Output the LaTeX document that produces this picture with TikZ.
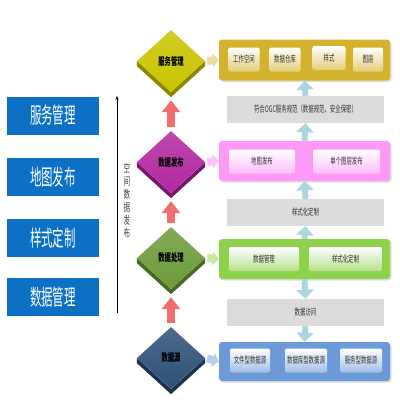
\documentclass[tikz,border=0pt]{standalone}
\usepackage{fontspec}
\setmainfont{Noto Sans CJK SC}[FakeStretch=0.6]
\newfontfamily\tallfont{Noto Sans CJK SC}[FakeStretch=0.52]
\usetikzlibrary{shapes.geometric,arrows.meta,shadows}

\definecolor{boxblue}{RGB}{12,112,196}
\definecolor{yelface}{RGB}{201,196,0}
\definecolor{yelside}{RGB}{140,136,0}
\definecolor{purface}{RGB}{178,40,160}
\definecolor{purside}{RGB}{120,22,108}
\definecolor{grnface}{RGB}{108,155,58}
\definecolor{grnside}{RGB}{70,105,35}
\definecolor{navface}{RGB}{46,80,120}
\definecolor{navside}{RGB}{28,50,80}
\definecolor{yelpanel}{RGB}{213,178,46}
\definecolor{pinkpanel}{RGB}{255,153,247}
\definecolor{grnpanel}{RGB}{142,209,75}
\definecolor{bluepanel}{RGB}{108,154,216}
\definecolor{graybar}{RGB}{220,220,220}
\definecolor{tealarr}{RGB}{169,214,223}
\definecolor{redarr}{RGB}{242,110,110}

\tikzset{
  leftbox/.style={fill=boxblue, text=white, minimum width=92pt, minimum height=38pt, font=\tallfont\fontsize{22}{22}\selectfont},
  gem/.style={diamond, minimum width=68pt, minimum height=62pt, inner sep=0pt, font=\fontsize{10.5}{10.5}\selectfont\bfseries, top color=#1!85!white, bottom color=#1},
  panel/.style={rounded corners=3pt, fill=#1, minimum width=171pt, drop shadow={shadow xshift=1.5pt, shadow yshift=-1.5pt, opacity=0.25}},
  cell/.style={rounded corners=2pt, top color=white, bottom color=#1!65!white, minimum height=24pt, inner sep=0pt, font=\fontsize{9}{9}\selectfont, text=black!80},
  bar/.style={fill=graybar, minimum width=157pt, minimum height=27pt, font=\fontsize{9}{9}\selectfont, text=black!80},
  uparrow/.style={draw=redarr, line width=8pt, -{Triangle[length=12pt,width=18pt]}},
  flowarrow/.style={draw=tealarr, line width=6pt, -{Triangle[length=9pt,width=17pt]}},
  sidearrow/.style={draw=#1, line width=8pt, -{Triangle[length=6pt,width=14pt]}, shorten <=2pt}
}

\begin{document}
\begin{tikzpicture}[x=1pt,y=-1pt]
\useasboundingbox (0,0) rectangle (400,400);

\node[leftbox] (l1) at (53,115.5) {服务管理};
\node[leftbox] (l2) at (53,177) {地图发布};
\node[leftbox] (l3) at (53,238) {样式定制};
\node[leftbox] (l4) at (53,297) {数据管理};

\coordinate (vbot) at (117,313);
\coordinate (vtop) at (117,96);
\draw[thin, -{Stealth[length=4pt,width=3pt]}] (vbot) -- (vtop);
\node[font=\fontsize{11}{13}\selectfont, align=center, text=black!75] (vt) at (127,201) {空\\间\\数\\据\\发\\布};

\node[gem=yelface] (d1) at (171,61) {服务管理};
\node[gem=purface] (d2) at (171,162) {数据发布};
\node[gem=grnface] (d3) at (171,258) {数据处理};
\node[gem=navface] (d4) at (171,358) {数据源};

\foreach \d/\c in {d1/yelside, d2/purside, d3/grnside, d4/navside}
  \fill[\c] (\d.west) -- (\d.south) -- (\d.east) -- ([yshift=-5pt]\d.east) -- ([yshift=-5pt]\d.south) -- ([yshift=-5pt]\d.west) -- cycle;

\draw[uparrow, shorten <=4pt, shorten >=3pt] (d2.north) -- ([yshift=-5pt]d1.south);
\draw[uparrow, shorten <=4pt, shorten >=3pt] (d3.north) -- ([yshift=-5pt]d2.south);
\draw[uparrow, shorten <=4pt, shorten >=3pt] (d4.north) -- ([yshift=-5pt]d3.south);

\node[panel=yelpanel, minimum height=41pt] (p1) at (304.5,60) {};
\node[panel=pinkpanel, minimum height=40pt] (p2) at (304.5,161) {};
\node[panel=grnpanel, minimum height=40pt] (p3) at (304.5,259) {};
\node[panel=bluepanel, minimum height=39pt] (p4) at (304.5,361.5) {};

\draw[sidearrow=yelpanel!45!white] (d1.east) -- (p1.west);
\draw[sidearrow=pinkpanel!60!white] (d2.east) -- (p2.west);
\draw[sidearrow=grnpanel!50!white] (d3.east) -- (p3.west);
\draw[sidearrow=bluepanel!50!white] (d4.east) -- (p4.west);

\node[cell=yelpanel, minimum width=31pt] (c11) at (244,59.5) {工作空间};
\node[cell=yelpanel, minimum width=31pt] (c12) at (285,59.5) {数据仓库};
\node[cell=yelpanel, minimum width=33pt] (c13) at (329,58) {样式};
\node[cell=yelpanel, minimum width=30pt] (c14) at (368,59.5) {图层};

\node[cell=pinkpanel, minimum width=66pt] (c21) at (262,161.5) {地图发布};
\node[cell=pinkpanel, minimum width=67pt] (c22) at (346.5,161.5) {单个图层发布};

\node[cell=grnpanel, minimum width=70pt] (c31) at (264,259) {数据管理};
\node[cell=grnpanel, minimum width=73pt] (c32) at (345.5,259) {样式化定制};

\node[cell=bluepanel, minimum width=40pt] (c41) at (250,360.5) {文件型数据源};
\node[cell=bluepanel, minimum width=42pt] (c42) at (306,360.5) {数据库型数据源};
\node[cell=bluepanel, minimum width=42pt] (c43) at (361,360.5) {服务型数据源};

\node[bar] (g1) at (305.5,109.5) {符合OGC服务规范（数据规范、安全保密）};
\node[bar] (g2) at (305.5,212.5) {样式化定制};
\node[bar] (g3) at (305.5,312.5) {数据访问};

\draw[flowarrow] (g1.north) -- (p1.south);
\draw[flowarrow] (p2.north) -- (g1.south);
\draw[flowarrow] (g2.north) -- (p2.south);
\draw[flowarrow] (p3.north) -- (g2.south);
\draw[flowarrow] (p3.south) -- (g3.north);
\draw[flowarrow] (g3.south) -- (p4.north);
\end{tikzpicture}
\end{document}
